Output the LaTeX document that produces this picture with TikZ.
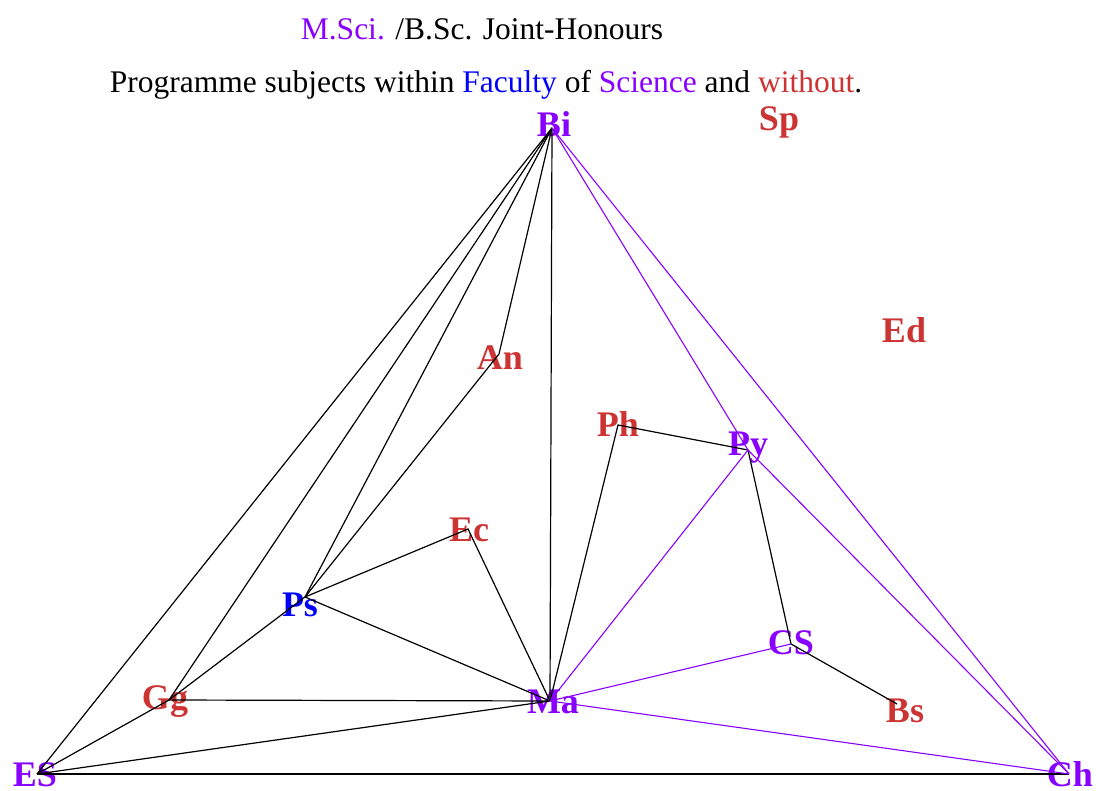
\documentclass[tikz,border=0pt]{standalone}
\usepackage{fontspec}
\setmainfont{Liberation Serif}
\definecolor{msviolet}{RGB}{136,0,255}
\definecolor{msred}{RGB}{204,51,51}
\definecolor{msblue}{RGB}{0,0,255}
\tikzset{
  subj/.style={font=\fontsize{36}{40}\selectfont\bfseries, inner sep=0pt, anchor=base},
  sci/.style={subj, text=msviolet},
  fac/.style={subj, text=msblue},
  nonsci/.style={subj, text=msred},
  jh/.style={line width=1.2pt, black},
  jhsci/.style={line width=1.1pt, msviolet},
}
\begin{document}
\begin{tikzpicture}[x=1pt,y=-1pt]
  \useasboundingbox (0,0) rectangle (1096,791);

  %Titulo
  \node[anchor=base, inner sep=0pt, font=\fontsize{31.5}{36}\selectfont] (tit1) at (482,40)
    {\textcolor{msviolet}{M.Sci.} /B.Sc. Joint-Honours};
  \node[anchor=base, inner sep=0pt, font=\fontsize{31.5}{36}\selectfont] (tit2) at (486,93)
    {Programme subjects within \textcolor{msblue}{Faculty} of \textcolor{msviolet}{Science} and \textcolor{msred}{without}.};

  %Puntos donde se unen las lineas
  \coordinate (bi) at (552,128);
  \coordinate (es) at (37,774);
  \coordinate (ch) at (1069,774);
  \coordinate (ma) at (550,701);
  \coordinate (ps) at (305,597);
  \coordinate (py) at (748,450);
  \coordinate (ph) at (618,425);
  \coordinate (an) at (499,354);
  \coordinate (ec) at (468,529);
  \coordinate (gg) at (169,700);
  \coordinate (cs) at (791,644);
  \coordinate (bs) at (897,704);

  %Etiquetas
  \node[sci] (Bi) at (554,137) {Bi};
  \node[sci] (ES) at (35,786) {ES};
  \node[sci] (Ch) at (1070,786) {Ch};
  \node[sci] (Ma) at (553,713) {Ma};
  \node[sci] (Py) at (748,456) {Py};
  \node[sci] (CS) at (791,654) {CS};
  \node[fac] (Ps) at (300,616) {Ps};
  \node[nonsci] (Ph) at (618,437) {Ph};
  \node[nonsci] (An) at (500,370) {An};
  \node[nonsci] (Ec) at (469,542) {Ec};
  \node[nonsci] (Gg) at (165,709) {Gg};
  \node[nonsci] (Bs) at (905,722) {Bs};
  \node[nonsci] (Sp) at (779,131) {Sp};
  \node[nonsci] (Ed) at (904,343) {Ed};

  %Lineas negras
  \draw[jh] (bi) -- (es);
  \draw[jh] (bi) -- (gg);
  \draw[jh] (bi) -- (ps);
  \draw[jh] (bi) -- (an) -- (ps);
  \draw[jh] (bi) -- (ma);
  \draw[jh] (gg) -- (es);
  \draw[jh] (gg) -- (ps);
  \draw[jh] (gg) -- (ma);
  \draw[jh] (ps) -- (ec) -- (ma);
  \draw[jh] (ps) -- (ma);
  \draw[jh] (es) -- (ma);
  \draw[jh] (es) -- (ch);
  \draw[jh] (ma) -- (ph) -- (py) -- (cs) -- (bs);

  %Lineas violetas
  \draw[jhsci] (bi) -- (py) -- (ch);
  \draw[jhsci] (bi) -- (ch);
  \draw[jhsci] (py) -- (ma) -- (cs);
  \draw[jhsci] (ma) -- (ch);
\end{tikzpicture}
\end{document}
